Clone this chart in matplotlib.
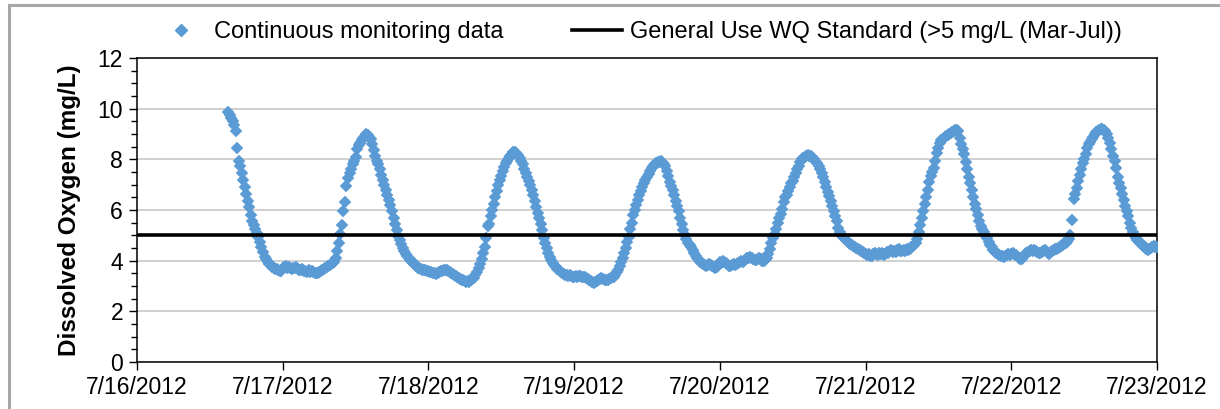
import matplotlib
matplotlib.use("Agg")
import matplotlib.pyplot as plt
import matplotlib.dates as mdates
from matplotlib.ticker import MultipleLocator, FuncFormatter
from matplotlib.lines import Line2D
from matplotlib.patches import Rectangle
import numpy as np
import pandas as pd

# ---- Data: dissolved oxygen (mg/L), 15-minute readings ----
start_time = "2012-07-16 15:00"
interval = "15min"

do_jul16 = [  # 15:00 - 23:45
    9.85, 9.75, 9.62, 9.50,  9.35, 9.10, 8.45, 7.95,  7.75, 7.45, 7.20, 6.90,
    6.65, 6.35, 6.10, 5.80,  5.55, 5.40, 5.25, 5.10,  4.95, 4.75, 4.55, 4.35,
    4.15, 4.05, 3.95, 3.88,  3.82, 3.75, 3.72, 3.68,  3.66, 3.62, 3.58, 3.60,
]
do_jul17 = [
    3.70, 3.76, 3.78, 3.72,  3.74, 3.70, 3.66, 3.72,  3.70, 3.74, 3.68, 3.65,
    3.62, 3.66, 3.60, 3.58,  3.57, 3.62, 3.55, 3.58,  3.54, 3.52, 3.50, 3.53,
    3.56, 3.60, 3.64, 3.68,  3.72, 3.76, 3.80, 3.84,  3.86, 3.90, 3.95, 4.10,
    4.40, 4.70, 5.05, 5.40,  5.95, 6.30, 6.95, 7.25,  7.45, 7.60, 7.80, 7.95,
    8.10, 8.40, 8.55, 8.65,  8.75, 8.85, 8.92, 9.00,  8.98, 8.90, 8.80, 8.60,
    8.35, 8.15, 7.95, 7.80,  7.60, 7.40, 7.20, 7.00,  6.80, 6.60, 6.40, 6.20,
    5.95, 5.70, 5.45, 5.20,  4.98, 4.80, 4.65, 4.50,  4.38, 4.28, 4.18, 4.10,
    4.03, 3.96, 3.90, 3.85,  3.80, 3.72, 3.70, 3.68,  3.65, 3.62, 3.63, 3.60,
]
do_jul18 = [
    3.58, 3.55, 3.56, 3.52,  3.50, 3.48, 3.52, 3.55,  3.58, 3.60, 3.62, 3.64,
    3.63, 3.60, 3.55, 3.50,  3.46, 3.42, 3.38, 3.36,  3.32, 3.28, 3.25, 3.22,
    3.18, 3.17, 3.20, 3.16,  3.22, 3.26, 3.32, 3.42,  3.55, 3.70, 3.85, 4.05,
    4.30, 4.55, 4.90, 5.35,  5.45, 5.75, 6.00, 6.25,  6.50, 6.75, 7.00, 7.18,
    7.35, 7.55, 7.70, 7.85,  7.95, 8.05, 8.15, 8.22,  8.28, 8.30, 8.25, 8.18,
    8.05, 7.95, 7.80, 7.62,  7.45, 7.30, 7.15, 6.98,  6.80, 6.60, 6.35, 6.10,
    5.90, 5.70, 5.45, 5.20,  4.90, 4.70, 4.50, 4.30,  4.15, 4.02, 3.92, 3.84,
    3.76, 3.68, 3.62, 3.58,  3.52, 3.48, 3.44, 3.42,  3.40, 3.42, 3.38, 3.36,
]
do_jul19 = [
    3.35, 3.38, 3.36, 3.40,  3.38, 3.35, 3.37, 3.34,  3.30, 3.26, 3.22, 3.18,
    3.14, 3.11, 3.15, 3.20,  3.24, 3.28, 3.30, 3.26,  3.24, 3.22, 3.25, 3.28,
    3.30, 3.34, 3.37, 3.45,  3.55, 3.65, 3.78, 3.95,  4.10, 4.30, 4.50, 4.75,
    4.95, 5.25, 5.50, 5.80,  6.00, 6.20, 6.40, 6.60,  6.75, 6.90, 7.05, 7.18,
    7.30, 7.42, 7.55, 7.65,  7.72, 7.80, 7.85, 7.88,  7.90, 7.92, 7.88, 7.82,
    7.72, 7.55, 7.35, 7.10,  6.95, 6.80, 6.60, 6.35,  6.15, 5.95, 5.70, 5.45,
    5.20, 5.00, 4.85, 4.70,  4.62, 4.52, 4.42, 4.32,  4.20, 4.10, 4.02, 3.95,
    3.90, 3.86, 3.83, 3.80,  3.84, 3.88, 3.82, 3.78,  3.74, 3.70, 3.75, 3.82,
]
do_jul20 = [
    3.95, 3.92, 3.98, 3.96,  3.90, 3.85, 3.78, 3.80,  3.84, 3.88, 3.82, 3.86,
    3.90, 3.94, 3.98, 3.96,  4.00, 4.05, 4.10, 4.12,  4.16, 4.12, 4.08, 4.04,
    4.03, 4.06, 4.10, 4.05,  4.00, 3.97, 4.02, 4.10,  4.25, 4.45, 4.70, 4.90,
    5.05, 5.25, 5.50, 5.70,  5.85, 6.05, 6.30, 6.50,  6.60, 6.75, 6.90, 7.05,
    7.15, 7.30, 7.45, 7.60,  7.75, 7.90, 8.00, 8.05,  8.10, 8.15, 8.18, 8.15,
    8.12, 8.08, 8.02, 7.95,  7.85, 7.75, 7.60, 7.45,  7.30, 7.10, 6.90, 6.70,
    6.55, 6.35, 6.15, 5.95,  5.75, 5.55, 5.30, 5.15,  5.02, 4.95, 4.88, 4.82,
    4.76, 4.70, 4.66, 4.60,  4.56, 4.52, 4.50, 4.46,  4.42, 4.38, 4.35, 4.30,
]
do_jul21 = [
    4.26, 4.22, 4.28, 4.20,  4.18, 4.25, 4.32, 4.28,  4.24, 4.30, 4.26, 4.32,
    4.22, 4.28, 4.35, 4.30,  4.38, 4.42, 4.36, 4.40,  4.35, 4.42, 4.45, 4.40,
    4.38, 4.44, 4.40, 4.46,  4.42, 4.48, 4.52, 4.58,  4.62, 4.70, 4.85, 5.15,
    5.40, 5.70, 5.95, 6.25,  6.50, 6.80, 7.10, 7.35,  7.50, 7.65, 7.95, 8.25,
    8.45, 8.65, 8.75, 8.82,  8.88, 8.92, 8.96, 9.00,  9.05, 9.08, 9.10, 9.14,
    9.16, 9.10, 8.85, 8.60,  8.40, 8.20, 7.90, 7.60,  7.30, 7.05, 6.80, 6.50,
    6.25, 6.05, 5.80, 5.55,  5.38, 5.25, 5.12, 5.00,  4.88, 4.75, 4.62, 4.52,
    4.42, 4.35, 4.30, 4.25,  4.22, 4.20, 4.18, 4.16,  4.20, 4.24, 4.28, 4.22,
]
do_jul22 = [
    4.26, 4.30, 4.28, 4.24,  4.18, 4.12, 4.05, 4.08,  4.15, 4.22, 4.30, 4.35,
    4.40, 4.42, 4.38, 4.44,  4.40, 4.36, 4.32, 4.29,  4.34, 4.40, 4.42, 4.38,
    4.32, 4.28, 4.34, 4.38,  4.42, 4.45, 4.48, 4.50,  4.55, 4.58, 4.62, 4.68,
    4.70, 4.75, 4.85, 5.00,  5.60, 6.45, 6.65, 6.85,  7.15, 7.40, 7.60, 7.85,
    8.00, 8.20, 8.45, 8.60,  8.70, 8.80, 8.90, 9.00,  9.08, 9.12, 9.16, 9.18,
    9.18, 9.15, 9.10, 9.00,  8.85, 8.65, 8.40, 8.15,  7.95, 7.65, 7.30, 7.05,
    6.85, 6.65, 6.40, 6.15,  5.95, 5.75, 5.50, 5.30,  5.15, 5.00, 4.90, 4.80,
    4.75, 4.70, 4.65, 4.58,  4.52, 4.48, 4.42, 4.46,  4.50, 4.55, 4.58, 4.55,
]
do_jul23 = [4.55]

standard_value = 5.0
x_start = "2012-07-16"
x_end = "2012-07-23"
y_ticks = [0, 2, 4, 6, 8, 10, 12]

series_label = "Continuous monitoring data"
standard_label = "General Use WQ Standard (>5 mg/L (Mar-Jul))"
y_label = "Dissolved Oxygen (mg/L)"

# ---- Build series ----
values = do_jul16 + do_jul17 + do_jul18 + do_jul19 + do_jul20 + do_jul21 + do_jul22 + do_jul23
times = pd.date_range(start_time, periods=len(values), freq=interval)

plt.rcParams['font.family'] = ['Liberation Sans', 'DejaVu Sans']

fig = plt.figure(figsize=(12.2, 4.09), dpi=100)
ax = fig.add_axes([137/1220, 1 - 362/409, (1157 - 137)/1220, (362 - 58)/409])

blue = '#5B9BD5'
ax.plot(times, values, linestyle='none', marker='D', markersize=6.6,
        markerfacecolor=blue, markeredgecolor=blue, markeredgewidth=0.3, zorder=3)
ax.axhline(standard_value, color='black', linewidth=2.6, zorder=4)

ax.set_xlim(pd.Timestamp(x_start), pd.Timestamp(x_end))
ax.set_ylim(0, 12)

ax.xaxis.set_major_locator(mdates.DayLocator())
ax.xaxis.set_major_formatter(FuncFormatter(
    lambda v, p: (lambda d: f"{d.month}/{d.day}/{d.year}")(mdates.num2date(v))))
ax.set_yticks(y_ticks)
ax.yaxis.set_minor_locator(MultipleLocator(0.5))

ax.tick_params(axis='both', which='major', labelsize=16.5, direction='out', length=6, width=1, color='black')
ax.tick_params(axis='y', which='minor', direction='out', length=4, width=1)
ax.tick_params(axis='x', pad=4)
ax.tick_params(axis='y', pad=4)

ax.grid(axis='y', which='major', color='#c8c8c8', linewidth=1.2, zorder=0)
ax.set_axisbelow(True)
for s in ax.spines.values():
    s.set_color('black')
    s.set_linewidth(1.1)

ax.set_ylabel(y_label, fontsize=17.5, fontweight='bold', labelpad=12)

handles = [
    Line2D([], [], linestyle='none', marker='D', markersize=6.5, color=blue),
    Line2D([], [], color='black', linewidth=2.6),
]
fig.legend(handles, [series_label, standard_label], loc='center',
           bbox_to_anchor=(639/1220, 1 - 32/409), ncol=2, frameon=False,
           fontsize=17, handlelength=2.1, handletextpad=0.34, columnspacing=2.9,
           borderpad=0.0)

# Outer frame of the chart area
fig.patches.append(Rectangle((8.5/1220, -0.05), 1.2, 1 - 5/409 + 0.05, transform=fig.transFigure,
                             fill=False, edgecolor='#a6a6a6', linewidth=2.2, zorder=10))

fig.savefig('out.png', dpi=100)
